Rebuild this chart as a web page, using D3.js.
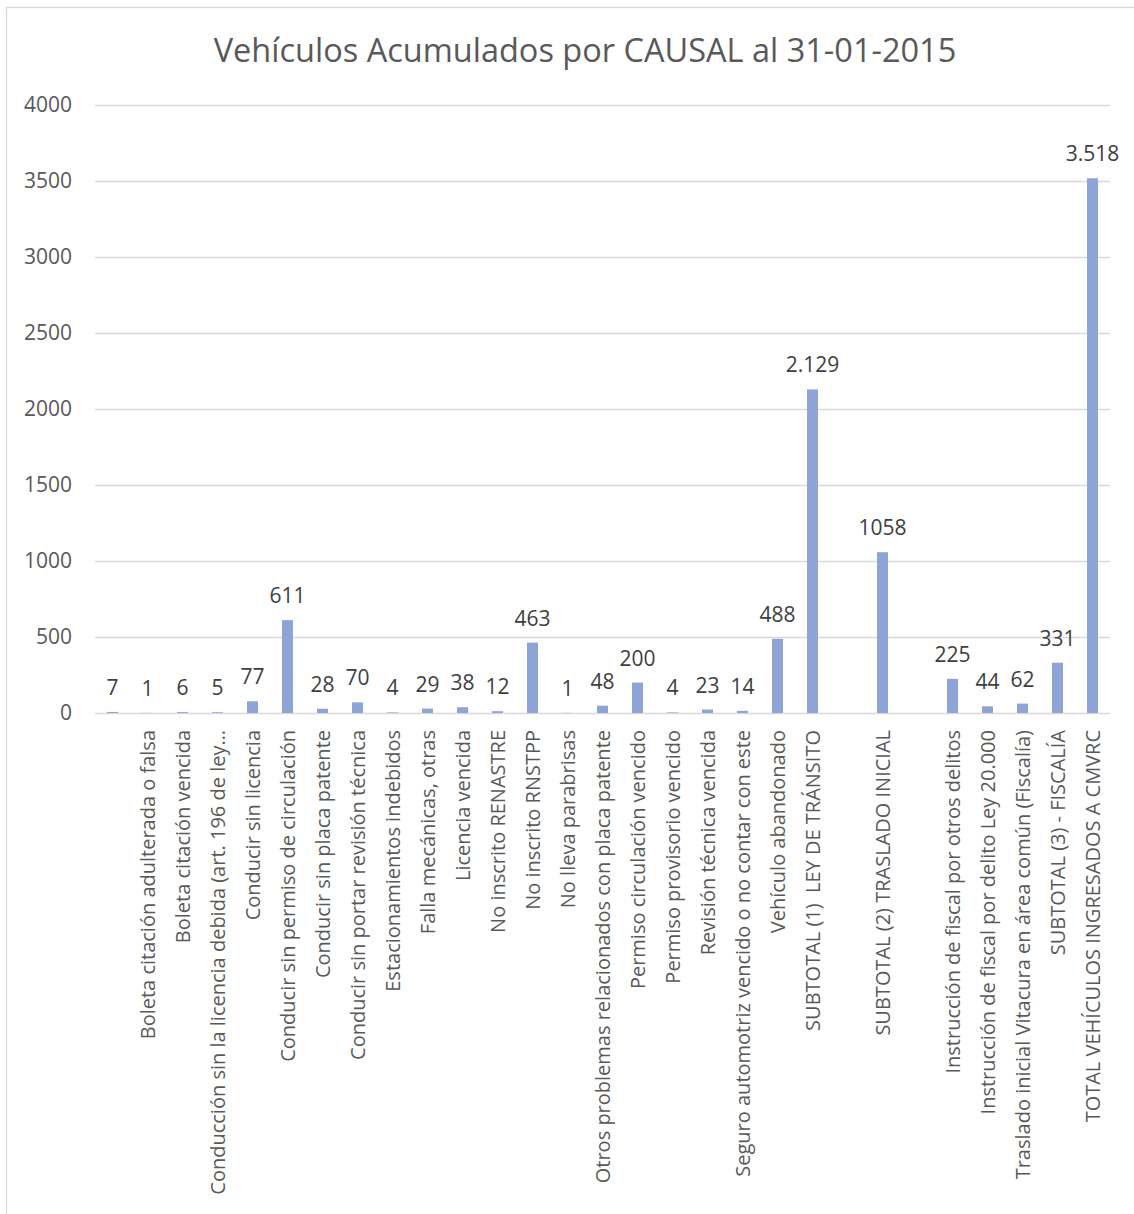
<!DOCTYPE html>
<html><head><meta charset="utf-8">
<script src="https://cdn.jsdelivr.net/npm/d3@7"></script>
<style>body{margin:0;background:#fff} svg{display:block} text{white-space:pre}</style>
</head><body>
<script>
const title = "Vehículos Acumulados por CAUSAL al 31-01-2015";
const categories = [
  "",
  "Boleta citación adulterada o falsa",
  "Boleta citación vencida",
  "Conducción sin la licencia debida (art. 196 de ley…",
  "Conducir sin licencia",
  "Conducir sin permiso de circulación",
  "Conducir sin placa patente",
  "Conducir sin portar revisión técnica",
  "Estacionamientos indebidos",
  "Falla mecánicas, otras",
  "Licencia vencida",
  "No inscrito RENASTRE",
  "No inscrito RNSTPP",
  "No lleva parabrisas",
  "Otros problemas relacionados con placa patente",
  "Permiso circulación vencido",
  "Permiso provisorio vencido",
  "Revisión técnica vencida",
  "Seguro automotriz vencido o no contar con este",
  "Vehículo abandonado",
  "SUBTOTAL (1)  LEY DE TRÁNSITO",
  " ",
  "SUBTOTAL (2) TRASLADO INICIAL",
  "  ",
  "Instrucción de fiscal por otros delitos",
  "Instrucción de fiscal por delito Ley 20.000",
  "Traslado inicial Vitacura en área común (Fiscalía)",
  "SUBTOTAL (3) - FISCALÍA",
  "TOTAL VEHÍCULOS INGRESADOS A CMVRC"
];
const values = [7,1,6,5,77,611,28,70,4,29,38,12,463,1,48,200,4,23,14,488,2129,null,1058,null,225,44,62,331,3518];
const valueLabels = ["7","1","6","5","77","611","28","70","4","29","38","12","463","1","48","200","4","23","14","488","2.129","","1058","","225","44","62","331","3.518"];
const yTicks = [0,500,1000,1500,2000,2500,3000,3500,4000];

const W = 1134, H = 1214;
const FONT = "'Open Sans', 'Noto Sans', sans-serif";
const FS = 21;
const svg = d3.select("body").append("svg").attr("width", W).attr("height", H);
svg.append("rect").attr("x",0).attr("y",0).attr("width",W).attr("height",H).attr("fill","#fff");
svg.append("rect").attr("x",6.5).attr("y",7.5).attr("width",W+10).attr("height",H+10)
  .attr("fill","none").attr("stroke","#D9D9D9").attr("stroke-width",1.3);

const x = d3.scaleBand().domain(d3.range(categories.length)).range([95,1110]).paddingInner(0.686).paddingOuter(0.343);
const y = d3.scaleLinear().domain([0,4000]).range([713,105]);

svg.append("text").attr("x",585).attr("y",62).attr("text-anchor","middle")
  .attr("font-family",FONT).attr("font-size",32.5).attr("fill","#595959").text(title);

// gridlines
svg.append("g").selectAll("line").data(yTicks).join("line")
  .attr("x1",95).attr("x2",1110)
  .attr("y1",d=>Math.round(y(d))+0.5).attr("y2",d=>Math.round(y(d))+0.5)
  .attr("stroke","#D9D9D9").attr("stroke-width",1.5);

// y axis labels
const yAxis = d3.axisLeft(y).tickValues(yTicks).tickSize(0).tickPadding(0).tickFormat(d3.format("d"));
const ga = svg.append("g").attr("transform","translate(72,0)").call(yAxis);
ga.select(".domain").remove();
ga.selectAll("text").attr("font-family",FONT).attr("font-size",FS).attr("fill","#595959");

// bars
const idx = d3.range(categories.length).filter(i => values[i] != null);
svg.append("g").selectAll("rect").data(idx).join("rect")
  .attr("x", i => x(i)).attr("width", x.bandwidth())
  .attr("y", i => y(values[i])).attr("height", i => y(0) - y(values[i]))
  .attr("fill", "#8FA4D6");

// value labels
svg.append("g").selectAll("text").data(idx).join("text")
  .attr("x", i => x(i) + x.bandwidth()/2).attr("y", i => y(values[i]) - 17)
  .attr("text-anchor","middle").attr("font-family",FONT).attr("font-size",FS).attr("fill","#404040")
  .text(i => valueLabels[i]);

// category labels
const xAxis = d3.axisBottom(x).tickSize(0).tickFormat(i => categories[i]);
const gx = svg.append("g").attr("transform","translate(0,713)").call(xAxis);
gx.select(".domain").remove();
gx.selectAll("text")
  .attr("font-family",FONT).attr("font-size",20).attr("fill","#595959")
  .attr("text-anchor","end").attr("dy",null)
  .attr("transform","translate(7.5,17) rotate(-90)")
  .attr("x",0).attr("y",0);
</script>
</body></html>
